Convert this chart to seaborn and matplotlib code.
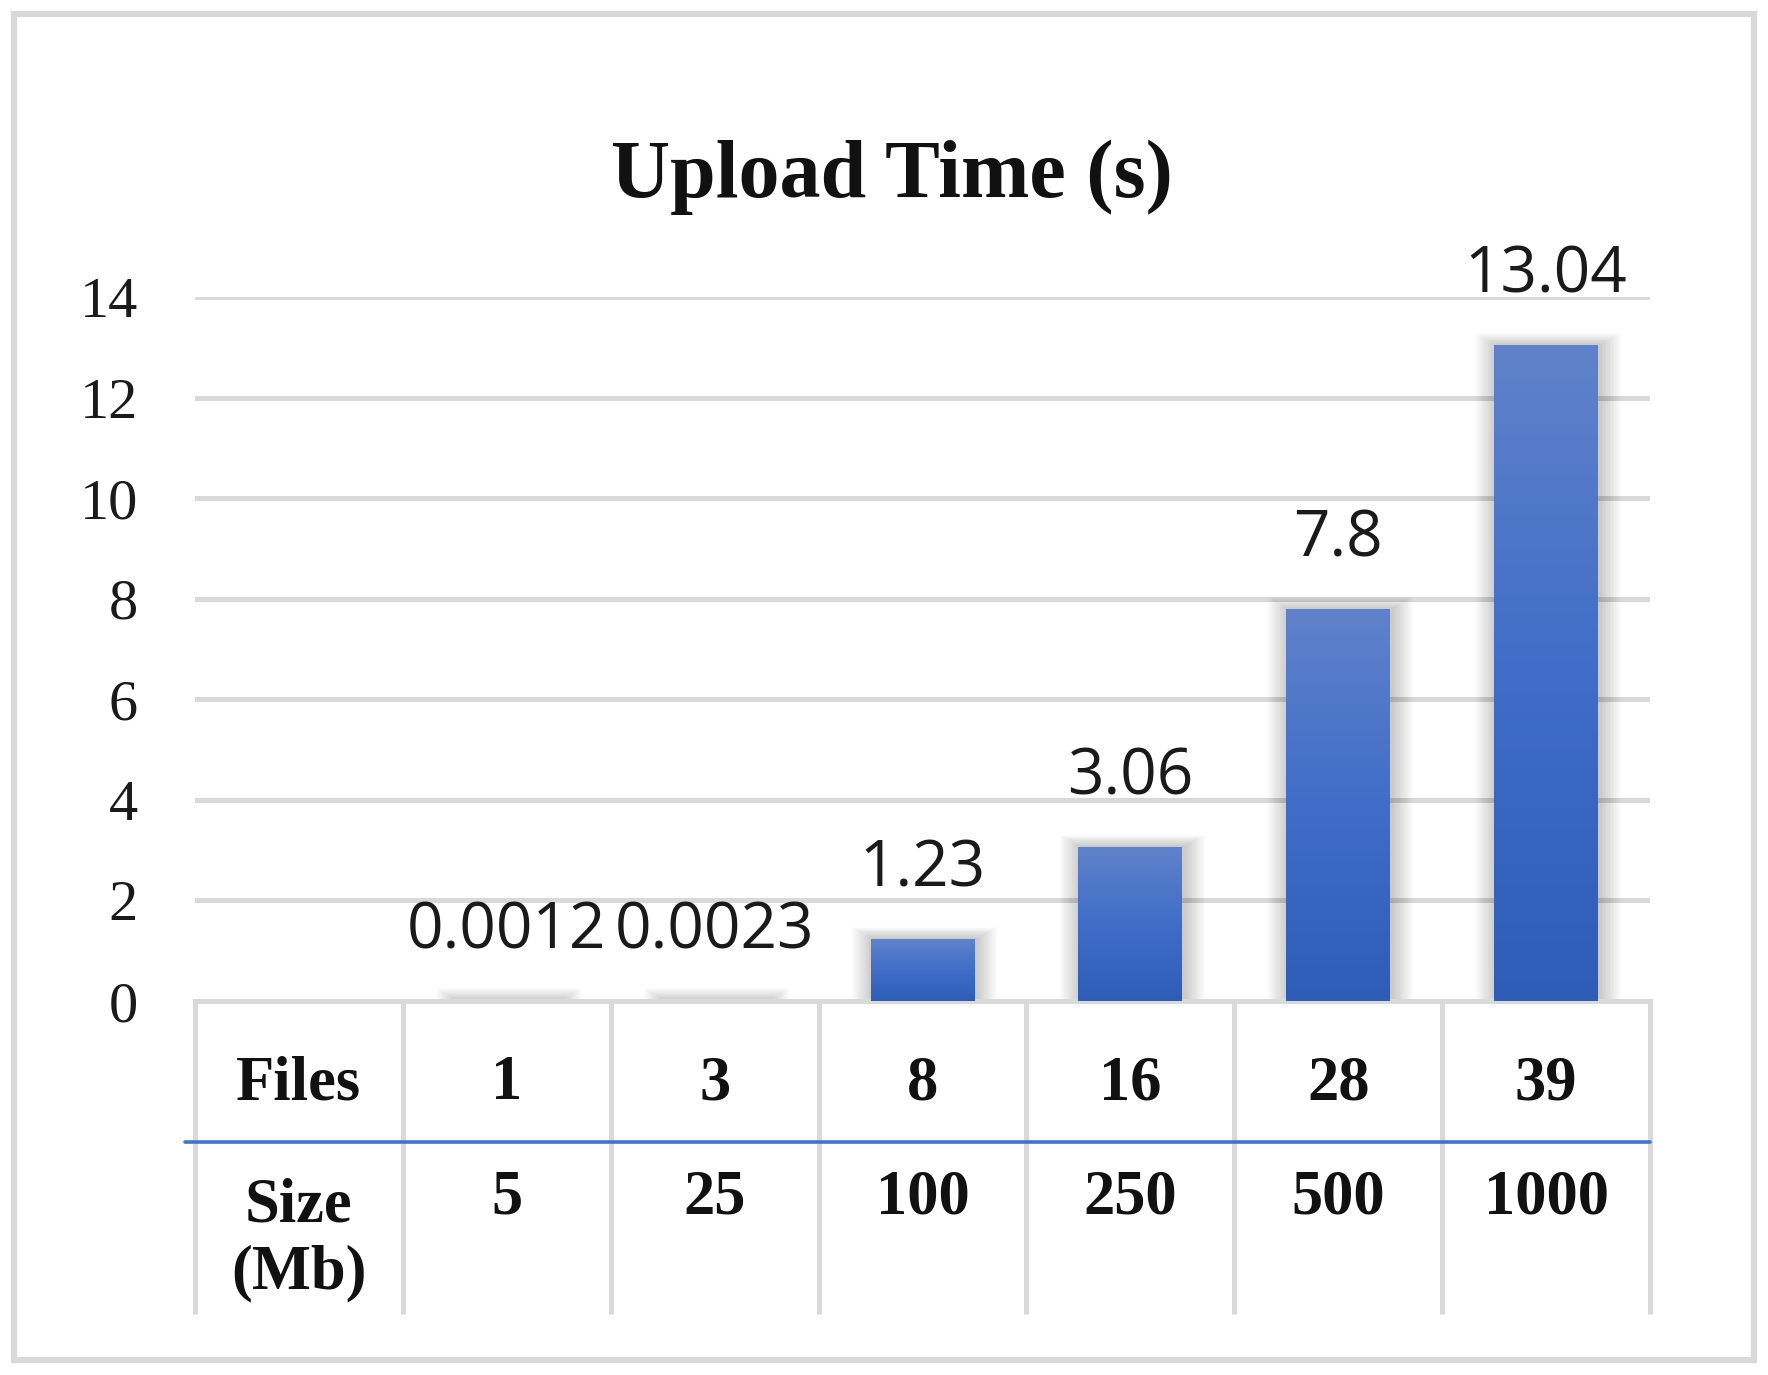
import numpy as np
import pandas as pd
import matplotlib
matplotlib.use("Agg")
import matplotlib.pyplot as plt
import matplotlib.transforms as mtransforms
from matplotlib.patches import Rectangle
from matplotlib.colors import LinearSegmentedColormap
import seaborn as sns

# ---- data ----
files = ["1", "3", "8", "16", "28", "39"]
sizes = ["5", "25", "100", "250", "500", "1000"]
upload_time = [0.0012, 0.0023, 1.23, 3.06, 7.8, 13.04]
value_labels = ["0.0012", "0.0023", "1.23", "3.06", "7.8", "13.04"]
row_headers = ["Files", "Size\n(Mb)"]
title = "Upload Time (s)"
yticks = [0, 2, 4, 6, 8, 10, 12, 14]

df = pd.DataFrame({"files": files, "time": upload_time})

sns.set_theme(style="white")
plt.rcParams["font.family"] = ["Liberation Serif", "DejaVu Serif"]

W, H, DPI = 1768, 1375, 100
fig = plt.figure(figsize=(W / DPI, H / DPI), dpi=DPI)
fig.patch.set_facecolor("white")

ax = fig.add_axes([195 / W, 1 - 1001 / H, (1650 - 195) / W, (1001 - 297) / H])

GRID = "#D9D9D9"
sns.barplot(data=df, x="files", y="time", order=files, color="#3F6CC6",
            width=0.5, ax=ax, zorder=3, edgecolor="none", linewidth=0)

xlim = (-1.5, len(files) - 0.5)
ylim = (0, 14)
ax.set_xlim(*xlim)
ax.set_ylim(*ylim)

# gridlines
for t in yticks[1:]:
    ax.axhline(t, color=GRID, lw=3.6, zorder=1)

# gradient + soft shadow on bars
grad = np.linspace(0, 1, 256).reshape(-1, 1)
cmap = LinearSegmentedColormap.from_list("g", ["#2E5DB8", "#3F6DC8", "#6082CA"])
px_x = (xlim[1] - xlim[0]) / (1650 - 195)
px_y = (ylim[1] - ylim[0]) / (1001 - 297)
for p in list(ax.patches):
    x0, w, h = p.get_x(), p.get_width(), p.get_height()
    for k in range(1, 14):
        d = k * 1.6
        ax.add_patch(Rectangle((x0 - d * px_x + 2 * px_x, 0), w + 2 * d * px_x,
                               h + 0.6 * d * px_y, facecolor="black", alpha=0.016,
                               edgecolor="none", zorder=2))
    im = ax.imshow(grad, extent=[x0, x0 + w, 0, h], origin="lower",
                   cmap=cmap, aspect="auto", zorder=4)
    im.set_clip_path(p)
ax.set_xlim(*xlim)
ax.set_ylim(*ylim)

# value labels
for i, (v, lab) in enumerate(zip(upload_time, value_labels)):
    ax.annotate(lab, (i, v), xytext=(0, 50), textcoords="offset points",
                ha="center", va="center", fontsize=46, color="#1a1a1a",
                family=["Open Sans", "DejaVu Sans"], zorder=6,
                annotation_clip=False)

# axes styling
for s in ax.spines.values():
    s.set_visible(False)
ax.set_xticks([])
ax.set_xlabel("")
ax.set_ylabel("")
ax.set_yticks(yticks)
ax.set_yticklabels([str(t) for t in yticks], fontsize=42, color="#1a1a1a")
ax.tick_params(axis="y", length=0, pad=41)

# data table below axes
tr = mtransforms.blended_transform_factory(ax.transData, ax.transAxes)
ax_h = 1001 - 297
y_top = 0.0
y_mid = -(1142 - 1001) / ax_h
y_bot = -(1314 - 1001) / ax_h
edges = np.arange(xlim[0], xlim[1] + 0.01, 1.0)
ax.plot([xlim[0], xlim[1]], [y_top, y_top], transform=tr, color=GRID, lw=3.6,
        clip_on=False, zorder=2, solid_capstyle="projecting")
for e in edges:
    ax.plot([e, e], [y_top, y_bot], transform=tr, color=GRID, lw=3.6,
            clip_on=False, zorder=2, solid_capstyle="butt")
ax.plot([xlim[0] - 0.05, xlim[1]], [y_mid, y_mid], transform=tr, color="#4472C4",
        lw=2.6, clip_on=False, zorder=3)

row1_y = -(1084 - 1001) / ax_h
row2_y = -(1199 - 1001) / ax_h
ax.text(-1, row1_y, row_headers[0], transform=tr, ha="center", va="center",
        fontsize=45, fontweight="bold", color="#111111")
ax.text(-1, -(1240 - 1001) / ax_h, row_headers[1], transform=tr, ha="center",
        va="center", fontsize=45, fontweight="bold", color="#111111",
        linespacing=1.2)
for i, (f, s) in enumerate(zip(files, sizes)):
    ax.text(i, row1_y, f, transform=tr, ha="center", va="center", fontsize=45,
            fontweight="bold", color="#111111")
    ax.text(i, row2_y, s, transform=tr, ha="center", va="center", fontsize=45,
            fontweight="bold", color="#111111")

# title
fig.text(892 / W, 1 - 177 / H, title, ha="center", va="center", fontsize=59,
         fontweight="bold", color="#111111")

# outer border
fig.add_artist(Rectangle((14 / W, 1 - 1360 / H), (1754 - 14) / W, (1360 - 14) / H,
                         transform=fig.transFigure, fill=False,
                         edgecolor=GRID, lw=4.5))

fig.savefig("out.png", dpi=DPI, facecolor="white")
